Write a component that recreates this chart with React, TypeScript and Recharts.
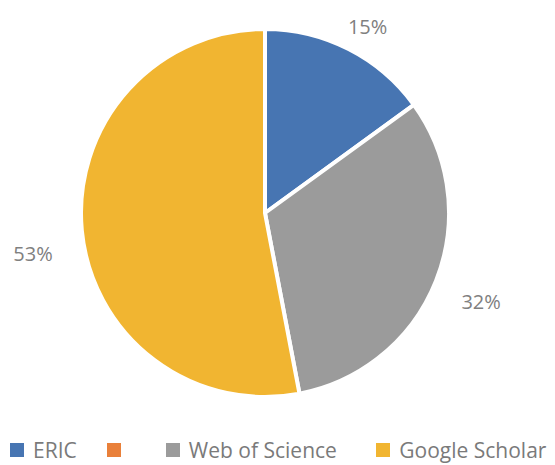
import React from "react";
import { PieChart, Pie, Cell, Legend } from "recharts";

const categories = ["ERIC", "", "Web of Science", "Google Scholar"];
const values = [15, 0, 32, 53];
const colors = ["#4775b2", "#e9803a", "#9b9b9b", "#f1b531"];

const data = categories.map((name, i) => ({ name, value: values[i] }));

const RAD = Math.PI / 180;
const labelNudge = [
  [0, 15],
  [0, 0],
  [6, 5],
  [-7, 19],
];

const renderLabel = (props: any) => {
  const { cx, cy, midAngle, outerRadius, value, index } = props;
  if (!value) return null;
  const r = outerRadius + 42;
  const x = cx + r * Math.cos(-midAngle * RAD) + labelNudge[index][0];
  const y = cy + r * Math.sin(-midAngle * RAD) + labelNudge[index][1];
  return (
    <text
      x={x}
      y={y}
      fill="#808080"
      fontSize={20}
      fontFamily="'Open Sans', sans-serif"
      textAnchor="middle"
      dominantBaseline="central"
    >
      {`${value}%`}
    </text>
  );
};

const legendWidths = [98, 59, 212, 180];

const renderLegend = () => (
  <div
    style={{
      display: "flex",
      fontFamily: "'Open Sans', sans-serif",
      fontSize: 21,
      lineHeight: "28px",
      color: "#7a7a7a",
      paddingLeft: 10,
    }}
  >
    {categories.map((c, i) => (
      <div
        key={i}
        style={{ display: "flex", alignItems: "center", width: legendWidths[i] }}
      >
        <span
          style={{
            display: "inline-block",
            width: 14,
            height: 14,
            background: colors[i],
            marginRight: 9,
          }}
        />
        <span>{c}</span>
      </div>
    ))}
  </div>
);

export default function App() {
  return (
    <div style={{ position: "absolute", left: 0, top: 0, background: "#fff" }}>
      <PieChart width={555} height={465} margin={{ top: 0, right: 0, bottom: 0, left: 0 }}>
        <Pie
          data={data}
          dataKey="value"
          nameKey="name"
          cx={265}
          cy={213}
          outerRadius={184}
          startAngle={90}
          endAngle={-270}
          stroke="#ffffff"
          strokeWidth={4}
          label={renderLabel}
          labelLine={false}
          isAnimationActive={false}
        >
          {data.map((d, i) => (
            <Cell key={i} fill={colors[i]} />
          ))}
        </Pie>
        <Legend
          content={renderLegend}
          verticalAlign="bottom"
          wrapperStyle={{ position: "absolute", left: 0, top: 436, width: 555 }}
        />
      </PieChart>
    </div>
  );
}
